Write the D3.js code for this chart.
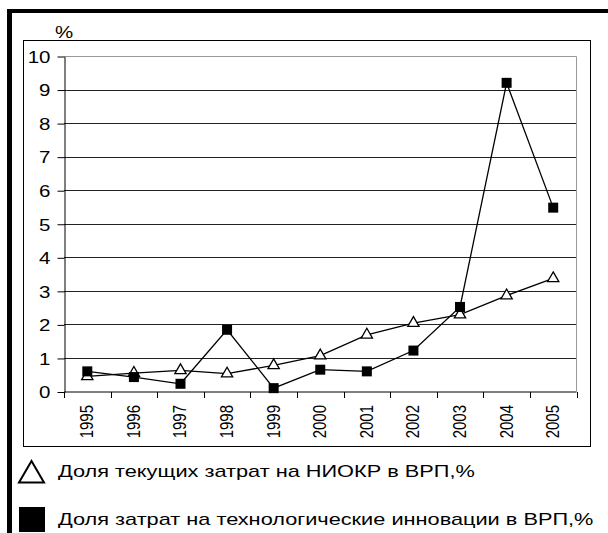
<!DOCTYPE html>
<html>
<head>
<meta charset="utf-8">
<script src="https://cdn.jsdelivr.net/npm/d3@7"></script>
<style>
  body { margin: 0; background: #fff; }
  text { font-family: "Liberation Sans", Arial, sans-serif; fill: #000; }
</style>
</head>
<body>
<svg id="chart"></svg>
<script>
var years = ["1995", "1996", "1997", "1998", "1999", "2000", "2001", "2002", "2003", "2004", "2005"];
var rdShare = [0.45, 0.55, 0.63, 0.53, 0.78, 1.07, 1.69, 2.04, 2.29, 2.86, 3.37];
var innovShare = [0.6, 0.43, 0.23, 1.84, 0.1, 0.65, 0.6, 1.22, 2.52, 9.2, 5.48];
var yTicks = [0, 1, 2, 3, 4, 5, 6, 7, 8, 9, 10];
var legendLabels = ["Доля текущих затрат на НИОКР в ВРП,%",
                    "Доля затрат на технологические инновации в ВРП,%"];

var width = 608;
var height = 533;
var plot = {left: 64, right: 576.5, top: 56, bottom: 391.5};
var stretch = 1.28; // the picture's text is wide, so glyphs get stretched sideways

var svg = d3.select("#chart")
            .attr("width", width)
            .attr("height", height);

// thick frame on top and left
svg.append("rect").attr("x", 7).attr("y", 9).attr("width", width - 7).attr("height", 4).attr("fill", "#000");
svg.append("rect").attr("x", 7).attr("y", 9).attr("width", 5).attr("height", height - 9).attr("fill", "#000");

// chart box
svg.append("rect")
    .attr("x", 23.5).attr("y", 40.5)
    .attr("width", 567).attr("height", 406)
    .attr("fill", "none")
    .attr("stroke", "#000");

var xScale = d3.scaleBand()
               .domain(years)
               .range([plot.left, plot.right]);

var yScale = d3.scaleLinear()
               .domain([0, 10])
               .range([plot.bottom, plot.top]);

// grid
svg.append("g")
    .selectAll("line")
    .data(yTicks.slice(1, -1))
    .enter()
    .append("line")
      .attr("x1", plot.left)
      .attr("x2", plot.right)
      .attr("y1", d => Math.round(yScale(d)) + 0.5)
      .attr("y2", d => Math.round(yScale(d)) + 0.5)
      .attr("stroke", "#222");

// plot border top/right
svg.append("path")
    .attr("d", "M" + plot.left + "," + (plot.top + 0.5) + "H" + plot.right + "V" + plot.bottom)
    .attr("fill", "none")
    .attr("stroke", "#999");

var yAxis = d3.axisLeft(yScale)
              .tickValues(yTicks)
              .tickSize(7)
              .tickSizeOuter(0);

var gy = svg.append("g")
    .attr("transform", "translate(" + (plot.left + 0.5) + ",0.5)")
    .call(yAxis);
gy.selectAll("text")
    .style("font-size", "16px")
    .attr("x", 0)
    .attr("dy", "0.36em")
    .attr("transform", "translate(-14,0) scale(" + stretch + ",1)");

var xAxis = d3.axisBottom(xScale)
              .tickSize(0)
              .tickSizeOuter(0);

var gx = svg.append("g")
    .attr("transform", "translate(0," + (plot.bottom + 0.5) + ")")
    .call(xAxis);
gx.select(".domain").attr("d", "M" + plot.left + ",0H" + plot.right);
gx.selectAll("text")
    .style("font-size", "15px")
    .attr("text-anchor", "end")
    .attr("x", 0)
    .attr("y", 0)
    .attr("dy", "0.36em")
    .attr("transform", "translate(-1,13) scale(" + stretch + ",1) rotate(-90)");

// tick marks between categories
gx.selectAll(".sep")
    .data(years.concat(["end"]))
    .enter()
    .append("line")
      .attr("class", "sep")
      .attr("x1", (d, i) => Math.round(plot.left + xScale.step() * i) + 0.5)
      .attr("x2", (d, i) => Math.round(plot.left + xScale.step() * i) + 0.5)
      .attr("y1", 0)
      .attr("y2", 6)
      .attr("stroke", "#000");

svg.append("text")
    .attr("transform", "translate(55,38) scale(" + stretch + ",1)")
    .style("font-size", "16px")
    .text("%");

var cx = d => xScale(d) + xScale.bandwidth() / 2;

var line = d3.line()
             .x((d, i) => cx(years[i]))
             .y(d => yScale(d));

svg.append("path")
    .datum(rdShare)
    .attr("d", line)
    .attr("fill", "none")
    .attr("stroke", "#000")
    .attr("stroke-width", 1.3);

svg.append("path")
    .datum(innovShare)
    .attr("d", line)
    .attr("fill", "none")
    .attr("stroke", "#000")
    .attr("stroke-width", 1.3);

var tri = d3.symbol().type(d3.symbolTriangle).size(55);

svg.selectAll(".tri")
    .data(rdShare)
    .enter()
    .append("path")
      .attr("class", "tri")
      .attr("transform", (d, i) => "translate(" + cx(years[i]) + "," + yScale(d) + ")")
      .attr("d", tri)
      .attr("fill", "#fff")
      .attr("stroke", "#000")
      .attr("stroke-width", 1.3);

svg.selectAll(".sq")
    .data(innovShare)
    .enter()
    .append("rect")
      .attr("class", "sq")
      .attr("x", (d, i) => cx(years[i]) - 5)
      .attr("y", d => yScale(d) - 5)
      .attr("width", 10)
      .attr("height", 10)
      .attr("fill", "#000");

// legend
var legend = svg.append("g");
legend.append("path")
    .attr("d", "M19,482.5L31.5,461L44,482.5Z")
    .attr("fill", "#fff")
    .attr("stroke", "#000")
    .attr("stroke-width", 2);
legend.append("rect")
    .attr("x", 19).attr("y", 507)
    .attr("width", 26).attr("height", 25)
    .attr("fill", "#000");
legend.selectAll("text")
    .data(legendLabels)
    .enter()
    .append("text")
      .attr("transform", (d, i) => "translate(58," + (477 + i * 48) + ") scale(1.36,1)")
      .style("font-size", "16px")
      .text(d => d);
</script>
</body>
</html>
